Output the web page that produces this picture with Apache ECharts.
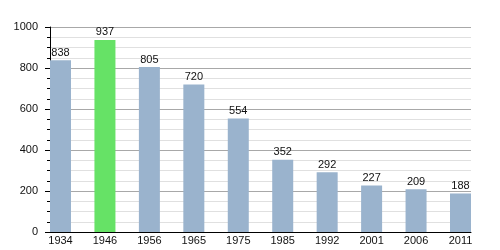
<!DOCTYPE html>
<html><head><meta charset="utf-8">
<script src="https://cdn.jsdelivr.net/npm/echarts@6/dist/echarts.min.js"></script>
<style>html,body{margin:0;padding:0;background:#fff}#c{width:500px;height:250px}</style>
</head><body><div id="c"></div>
<script>
const years = ['1934','1946','1956','1965','1975','1985','1992','2001','2006','2011'];
const population = [838, 937, 805, 720, 554, 352, 292, 227, 209, 188];
const highlightYear = '1946';
const yTicks = [0, 200, 400, 600, 800, 1000];

const font = '"Liberation Sans", Arial, sans-serif';
const chart = echarts.init(document.getElementById('c'), null, {renderer: 'canvas'});
chart.setOption({
  animation: false,
  backgroundColor: '#fff',
  grid: [
    {left: 50, right: 29, top: 27, bottom: 18},
    {left: 60.5, right: 39.5, top: 27, bottom: 18}
  ],
  xAxis: [
    {type: 'category', gridIndex: 0, data: years, boundaryGap: true,
     axisLine: {show: true, lineStyle: {color: '#000', width: 1}},
     axisTick: {show: false}, axisLabel: {show: false}, splitLine: {show: false}},
    {type: 'category', gridIndex: 1, data: years, boundaryGap: false,
     axisLine: {show: false}, axisTick: {show: false},
     axisLabel: {show: true, color: '#111', fontSize: 11, fontFamily: font, margin: 3, interval: 0}}
  ],
  yAxis: [
    {type: 'value', gridIndex: 0, min: yTicks[0], max: yTicks[yTicks.length-1], interval: 200,
     axisLine: {show: true, lineStyle: {color: '#000', width: 1}},
     axisTick: {show: true, length: 5, lineStyle: {color: '#000'}},
     minorTick: {show: true, splitNumber: 4, length: 3, lineStyle: {color: '#000'}},
     axisLabel: {color: '#111', fontSize: 11, fontFamily: font, margin: 12, formatter: v => String(v)},
     splitLine: {show: true, lineStyle: {color: '#a8a8a8', width: 1}},
     minorSplitLine: {show: true, lineStyle: {color: '#e0e0e0', width: 1}}},
    {type: 'value', gridIndex: 1, min: yTicks[0], max: yTicks[yTicks.length-1], show: false,
     splitLine: {show: false}}
  ],
  series: [{
    type: 'bar', xAxisIndex: 1, yAxisIndex: 1, barWidth: 21,
    data: population.map((v, i) => ({value: v, itemStyle: {color: years[i] === highlightYear ? '#66e266' : '#9ab3cd'}})),
    label: {show: true, position: 'top', distance: 2, color: '#111', fontSize: 11, fontFamily: font}
  }]
});
</script></body></html>
